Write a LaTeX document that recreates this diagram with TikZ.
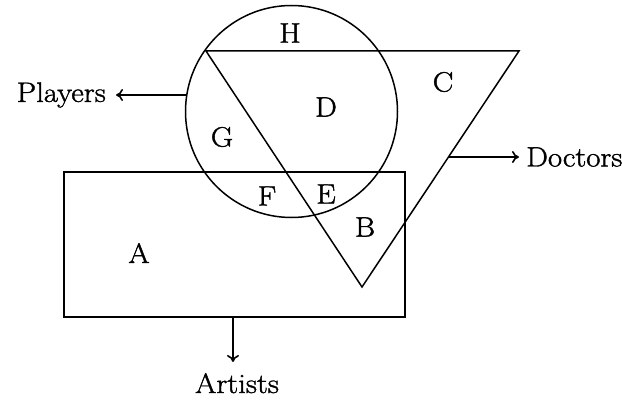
\documentclass[tikz,border=0pt]{standalone}
\usepackage{fontspec}
\newfontfamily\lblfont{Latin Modern Roman}[FakeBold=1.4,FakeStretch=1.1]
\usetikzlibrary{arrows.meta}
\begin{document}
\begin{tikzpicture}[x=1pt,y=-1pt,
  shape line/.style={line width=1.5pt},
  lbl/.style={font=\lblfont\fontsize{28}{32}\selectfont, inner sep=0pt},
  pointer/.style={line width=1.6pt,-{To[length=7pt,width=12pt]}}]
\useasboundingbox (0,0) rectangle (622,404);
% shapes
\draw[shape line] (291.5,111.5) circle (106);
\coordinate (T1) at (206,51);
\coordinate (T2) at (519,51);
\coordinate (T3) at (362,287);
\draw[shape line] (T1) -- (T2) -- (T3) -- cycle;
\draw[shape line] (64,172) rectangle (405,317);
% region labels
\node[lbl] (H) at (290,33) {H};
\node[lbl] (C) at (443,82) {C};
\node[lbl] (D) at (326,107) {D};
\node[lbl] (G) at (222,137) {G};
\node[lbl] (F) at (267,196) {F};
\node[lbl] (E) at (326,194) {E};
\node[lbl] (B) at (365,227) {B};
\node[lbl] (A) at (139,253) {A};
% set names
\node[lbl,anchor=east] (players) at (106,95) {Players};
\node[lbl,anchor=west] (doctors) at (526,157) {Doctors};
\node[lbl,anchor=north] (artists) at (237,373) {Artists};
\coordinate (pc) at (186.8,95);
\coordinate (pt) at (116,95);
\coordinate (dc) at (449,157);
\coordinate (dt) at (519,157);
\coordinate (ac) at (233,317);
\coordinate (at) at (233,362);
\draw[pointer] (pc) -- (pt);
\draw[pointer] (dc) -- (dt);
\draw[pointer] (ac) -- (at);
\end{tikzpicture}
\end{document}
